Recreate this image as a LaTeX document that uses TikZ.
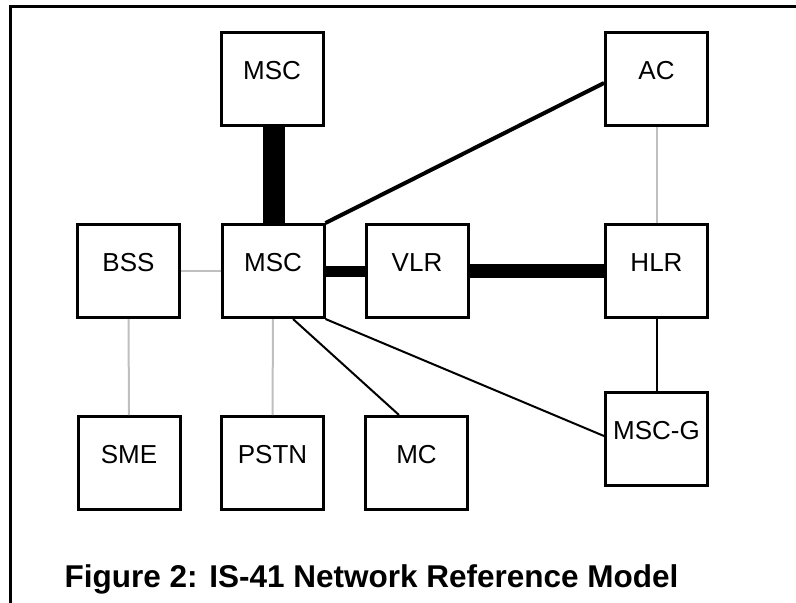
\documentclass[tikz,border=0pt]{standalone}
\usepackage{fontspec}
\setmainfont{Liberation Sans}
\begin{document}
\begin{tikzpicture}[x=1pt,y=-1pt,
  unit/.style={draw=black, line width=3pt, fill=white, minimum width=102pt, minimum height=93pt,
    inner sep=0pt, text height=18.6pt, text depth=17pt, font=\fontsize{26}{26}\selectfont},
  grayline/.style={draw=black!25, line width=2pt},
  thinline/.style={draw=black, line width=2pt},
  heavy/.style={draw=black, line width=#1}]
\useasboundingbox (0,0) rectangle (796,603);
\draw[line width=3pt] (10,610) -- (10,6) -- (800,6);
\node[unit] (msct) at (272,79) {MSC};
\node[unit] (ac) at (656.5,79) {AC};
\node[unit] (bss) at (128.5,271) {BSS};
\node[unit] (mscm) at (273,271) {MSC};
\node[unit] (vlr) at (417,271) {VLR};
\node[unit] (hlr) at (656.5,271) {HLR};
\node[unit] (sme) at (129,463) {SME};
\node[unit] (pstn) at (272.5,463) {PSTN};
\node[unit] (mc) at (416.5,463) {MC};
\node[unit] (mscg) at (656.5,439) {MSC-G};
\draw[heavy=22pt] ([xshift=2pt]msct.south) -- ([xshift=1pt]mscm.north);
\draw[heavy=11pt] (mscm.east) -- (vlr.west);
\draw[heavy=14pt] (vlr.east) -- (hlr.west);
\draw[heavy=4pt] (mscm.north east) -- ([yshift=-4pt]ac.west);
\draw[grayline] (ac.south) -- (hlr.north);
\draw[grayline] (bss.east) -- (mscm.west);
\draw[grayline] (bss.south) -- (sme.north);
\draw[grayline] (mscm.south) -- (pstn.north);
\draw[thinline] ([xshift=20pt]mscm.south) -- ([xshift=-17.5pt]mc.north);
\draw[thinline] (mscm.south east) -- ([yshift=3pt]mscg.west);
\draw[thinline] (hlr.south) -- (mscg.north);
\node[anchor=base west, inner sep=0pt, font=\bfseries\fontsize{31.5}{31.5}\selectfont] (title) at (64.5,587) {Figure 2: IS-41 Network Reference Model};
\end{tikzpicture}
\end{document}
